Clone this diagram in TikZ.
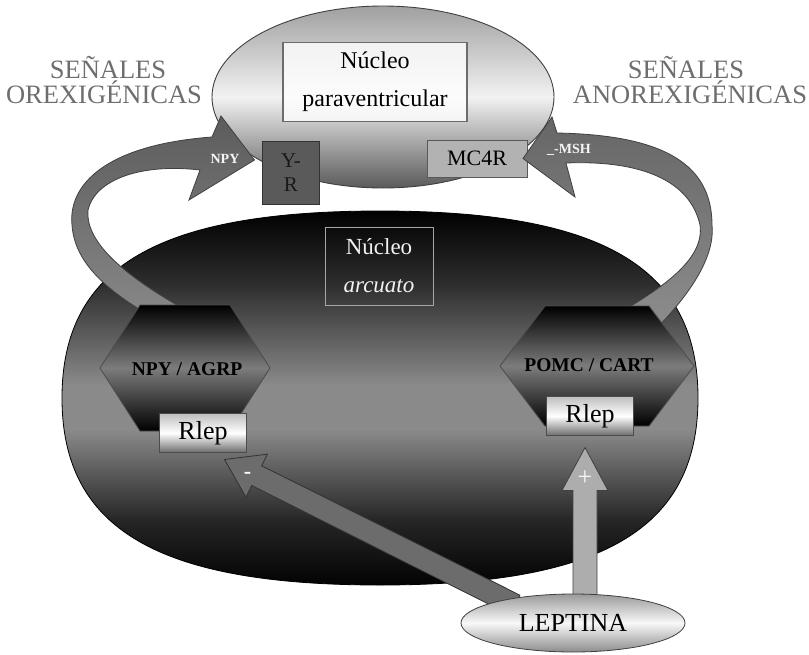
\documentclass[tikz,border=0pt]{standalone}
\usepackage{fontspec}
\setmainfont{Liberation Serif}
\usetikzlibrary{calc,shapes.geometric}

% greys
\definecolor{pvtop}{HTML}{A0A0A0}
\definecolor{pvmid}{HTML}{F2F2F2}
\definecolor{pvbot}{HTML}{5A5A5A}
\definecolor{yrfill}{HTML}{5A5A5A}
\definecolor{mcfill}{HTML}{B2B2B2}
\definecolor{labelgray}{HTML}{6E6E6E}
\definecolor{ribLtop}{HTML}{5C5C5C}
\definecolor{ribLbot}{HTML}{8A8A8A}
\definecolor{ribRtop}{HTML}{666666}
\definecolor{ribRbot}{HTML}{8E8E8E}
\definecolor{minusfill}{HTML}{6C6C6C}
\definecolor{plusfill}{HTML}{ADADAD}
\definecolor{rlepT}{HTML}{BEBEBE}
\definecolor{rlepM}{HTML}{FFFFFF}
\definecolor{rlepB}{HTML}{6C6C6C}
\definecolor{lepT}{HTML}{9A9A9A}
\definecolor{lepM}{HTML}{F8F8F8}
\definecolor{lepB}{HTML}{8C8C8C}
\definecolor{arcD}{HTML}{262626}
\definecolor{arcC}{HTML}{8A8A8A}
\definecolor{arcB}{HTML}{2E2E2E}
\definecolor{hexB}{HTML}{7C7C7C}

% block arrow: style, tail, tip, shaft half width, head half width, head length
\newcommand\blkarrow[6]{%
  \coordinate (ba-base) at ($(#3)!#6!(#2)$);
  \path[#1] ($(#2)!#4!90:(#3)$) -- ($(ba-base)!#4!90:(#3)$) -- ($(ba-base)!#5!90:(#3)$)
    -- (#3) -- ($(ba-base)!#5!-90:(#3)$) -- ($(ba-base)!#4!-90:(#3)$)
    -- ($(#2)!#4!-90:(#3)$) -- cycle;}

% outline of the arcuate nucleus
\newcommand\arcoutline{(698,398) .. controls (698,267) and (602,211) .. (380,211)
  .. controls (158,211) and (62,267) .. (62,398)
  .. controls (62,529) and (158,585) .. (380,585)
  .. controls (602,585) and (698,529) .. (698,398) -- cycle}

\begin{document}
\begin{tikzpicture}[x=1pt,y=-1pt,
  every node/.style={inner sep=0pt, outer sep=0pt},
  pvn/.style={ellipse, draw=black!75, line width=0.9pt, top color=pvtop,
    bottom color=pvbot, middle color=pvmid, minimum width=342pt, minimum height=182pt},
  pvbox/.style={draw=gray!85!black, line width=1.6pt, fill=white, fill opacity=0.8,
    text opacity=1, minimum width=184pt, minimum height=79pt, align=center,
    font=\fontsize{24}{38}\selectfont},
  yrbox/.style={draw=black!80, line width=0.8pt, fill=yrfill, minimum width=57pt,
    minimum height=63pt, align=center, text=black!90, font=\fontsize{21}{24}\selectfont},
  mcbox/.style={draw=black!65, line width=0.8pt, fill=mcfill, minimum width=100pt,
    minimum height=37pt, font=\fontsize{22}{22}\selectfont},
  arcbox/.style={draw=gray!70, line width=1pt, minimum width=108pt, minimum height=78pt,
    align=center, text=white!90!gray, font=\fontsize{23}{38}\selectfont},
  ribbonL/.style={draw=black!75, line width=0.8pt, top color=ribLtop, bottom color=ribLbot},
  ribbonR/.style={draw=black!75, line width=0.8pt, top color=ribRtop, bottom color=ribRbot},
  hexfill/.style={top color=black, bottom color=black, middle color=hexB},
  hexline/.style={draw=black!70, line width=0.8pt},
  hextext/.style={font=\bfseries\fontsize{19.5}{19.5}\selectfont, text=black},
  rlepbox/.style={draw=black!70, line width=0.8pt, top color=rlepT,
    bottom color=rlepB, middle color=rlepM, minimum width=87pt, minimum height=39pt,
    font=\fontsize{26}{26}\selectfont},
  lepnode/.style={ellipse, draw=black!75, line width=0.8pt, top color=lepT,
    bottom color=lepB, middle color=lepM, minimum width=224pt, minimum height=58pt,
    font=\fontsize{26}{26}\selectfont},
  sigtext/.style={anchor=base, text=labelgray, font=\fontsize{26.5}{26.5}\selectfont},
  arrowtext/.style={anchor=base, text=white!92!gray, font=\bfseries\fontsize{14}{14}\selectfont}]

\fill[white] (0,0) rectangle (809,654);
\useasboundingbox (0,0) rectangle (809,654);

% paraventricular nucleus and its receptors
\node (pvn) [pvn] at (383,97) {};
\node (pvbox) [pvbox] at (375,82) {Núcleo\\paraventricular};
\node (yr) [yrbox] at (291,173) {Y-\\R};
\node (mc4r) [mcbox] at (477,158.5) {MC4R};

% arcuate nucleus: dark at top and bottom, grey through the middle
\coordinate (arc) at (380,398);
\begin{scope}
  \clip \arcoutline;
  \shade[top color=black, bottom color=arcB] (0,210) rectangle (809,285);
  \shade[top color=arcB, bottom color=arcC] (0,284.5) rectangle (809,385);
  \fill[arcC] (0,384.5) rectangle (809,430);
  \shade[top color=arcC, bottom color=arcD] (0,429.5) rectangle (809,520);
  \shade[top color=arcD, bottom color=black] (0,519.5) rectangle (809,590);
\end{scope}
\draw[black, line width=0.8pt] \arcoutline;

% curved signalling ribbons
\coordinate (npyTip) at ($(yr.west)+(-8,-13)$);
\coordinate (mshTip) at ($(mc4r.east)+(-4,0)$);
\path[ribbonL] (175,330) .. controls (120,300) and (75,270) .. (72,225)
  .. controls (68,185) and (105,145) .. (212,137)
  -- (221,116) -- (npyTip) -- (189,200) -- (200,170)
  .. controls (140,163) and (95,180) .. (88,210)
  .. controls (85,245) and (130,280) .. (200,318) -- cycle;
\path[ribbonR] (650,335) .. controls (675,310) and (716,265) .. (712,225)
  .. controls (712,165) and (665,135) .. (557,133)
  -- (552,117) -- (mshTip) -- (575,197) -- (566,163)
  .. controls (640,160) and (690,180) .. (700,225)
  .. controls (705,260) and (660,290) .. (610,318) -- cycle;
\node (npylbl) [arrowtext] at (225,163) {NPY};
\node (mshlbl) [arrowtext] at (569,153) {\_-MSH};

% neurons of the arcuate nucleus
\coordinate (hexL) at (185,368);
\coordinate (hexR) at (597,366);
\shade[hexfill] ($(hexL)+(-85,0)$) -- ++(40,-63) -- ++(90,0) -- ++(40,63)
  -- ++(-40,63) -- ++(-90,0) -- cycle;
\draw[hexline] ($(hexL)+(-85,0)$) -- ++(40,-63) -- ++(90,0) -- ++(40,63)
  -- ++(-40,63) -- ++(-90,0) -- cycle;
\shade[hexfill] ($(hexR)+(-97,0)$) -- ++(45,-60) -- ++(104,0) -- ++(45,60)
  -- ++(-45,60) -- ++(-104,0) -- cycle;
\draw[hexline] ($(hexR)+(-97,0)$) -- ++(45,-60) -- ++(104,0) -- ++(45,60)
  -- ++(-45,60) -- ++(-104,0) -- cycle;
\node (npyagrp) [hextext] at ($(hexL)+(2,1)$) {NPY / AGRP};
\node (pomccart) [hextext] at ($(hexR)+(-8,-1)$) {POMC / CART};
\node (rlepL) [rlepbox] at (203,433) {Rlep};
\node (rlepR) [rlepbox] at (590,416) {Rlep};

\node (arcbox) [arcbox] at (379,266) {Núcleo\\\textit{arcuato}};

% leptin and its actions
\coordinate (lepc) at (573,623);
\coordinate (mtail) at ($(lepc)+(-58,-18)$);
\coordinate (mtip) at ($(rlepL.south east)+(-22,7)$);
\coordinate (ptail) at ($(lepc)+(12,-19)$);
\coordinate (ptip) at ($(rlepR.south)+(-5,12)$);
\blkarrow{fill=minusfill, draw=black!80, line width=0.8pt}{mtail}{mtip}{11pt}{24pt}{36pt}
\blkarrow{fill=plusfill, draw=black!75, line width=0.8pt}{ptail}{ptip}{12pt}{23pt}{43pt}
\node (lep) [lepnode] at (lepc) {LEPTINA};
\node (minuslbl) [text=white, font=\bfseries\fontsize{22}{22}\selectfont] at ($(mtip)+(23,16)$) {-};
\node (pluslbl) [text=white!92!gray, font=\fontsize{26}{26}\selectfont] at ($(ptip)+(0,31)$) {+};

% side headings
\node (oreA) [sigtext] at (108,78) {SEÑALES};
\node (oreB) [sigtext] at (104,103) {OREXIGÉNICAS};
\node (anoA) [sigtext] at (686,78) {SEÑALES};
\node (anoB) [sigtext] at (690,103) {ANOREXIGÉNICAS};
\end{tikzpicture}
\end{document}
